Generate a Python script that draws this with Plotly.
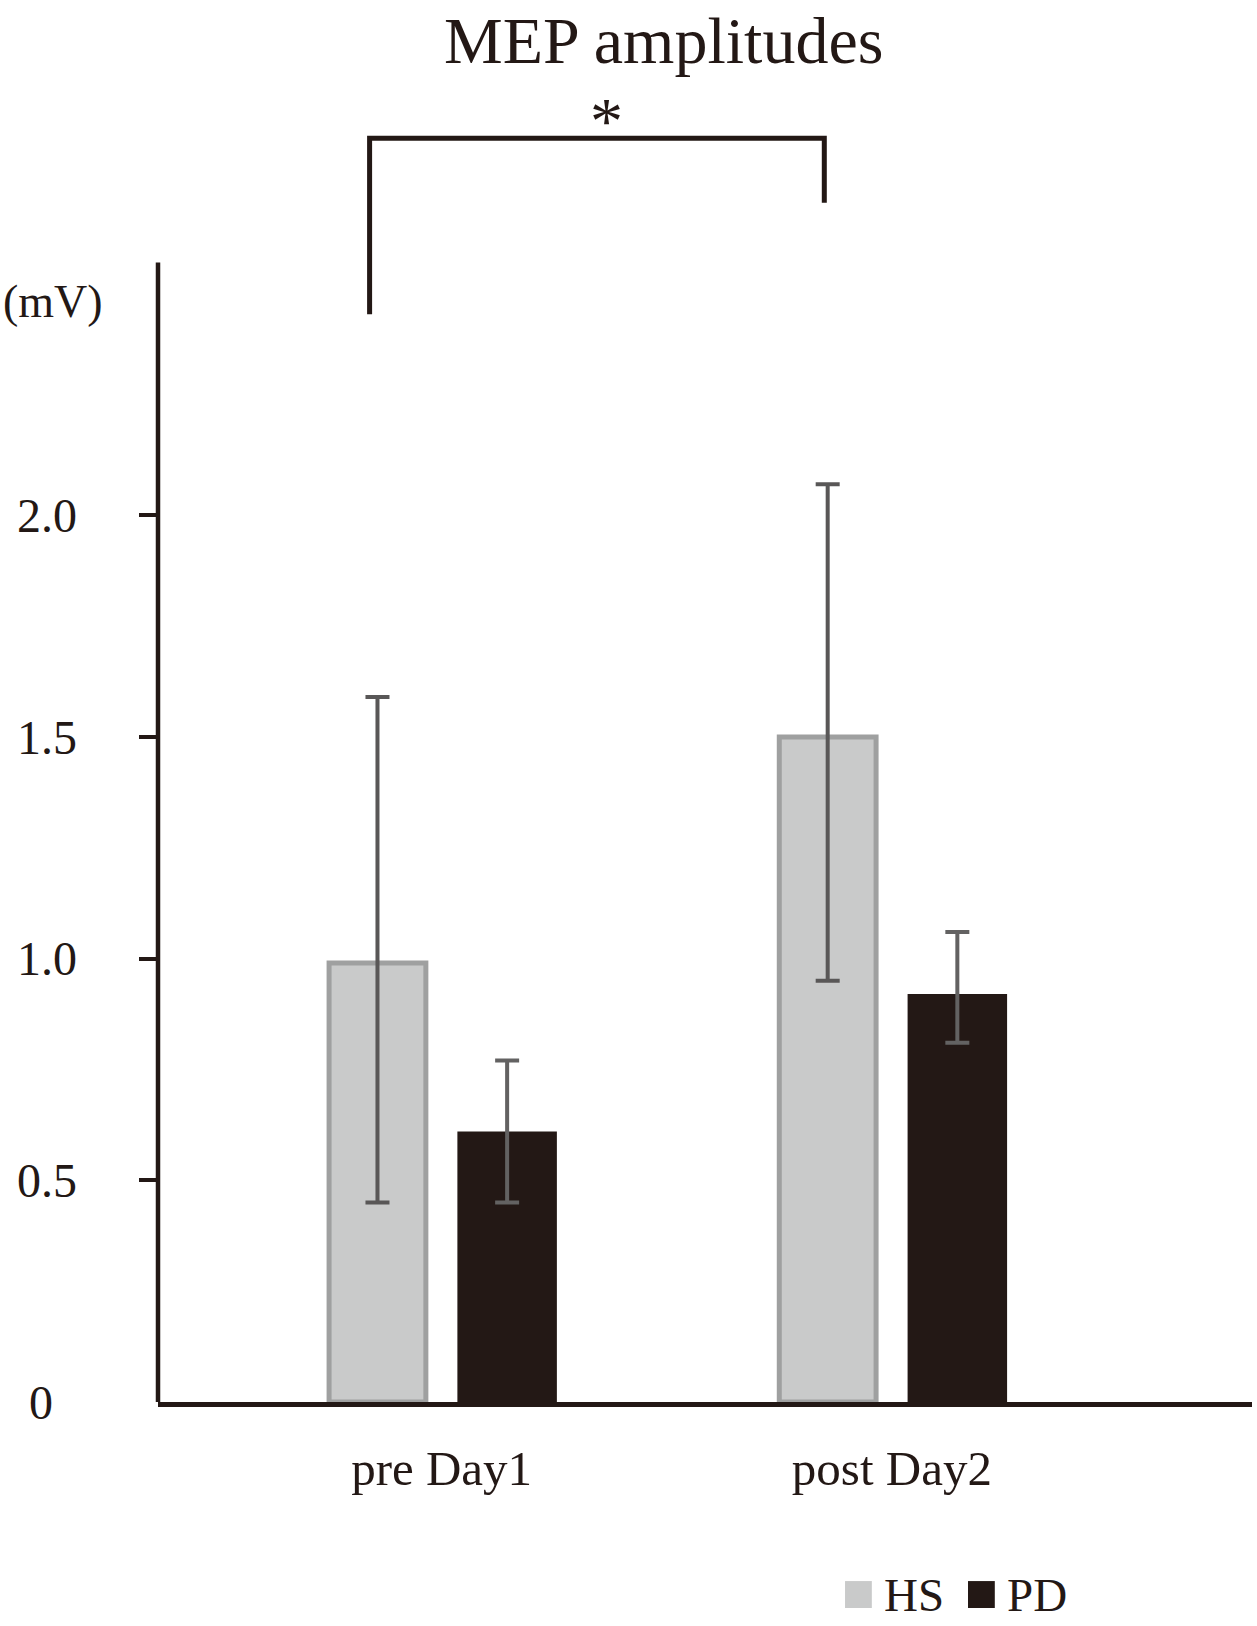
import plotly.graph_objects as go

# ---- data ----
categories = ["pre Day1", "post Day2"]
hs_mean = [0.99, 1.50]
hs_err_plus = [0.60, 0.57]
hs_err_minus = [0.54, 0.55]
pd_mean = [0.61, 0.92]
pd_err_plus = [0.16, 0.14]
pd_err_minus = [0.16, 0.11]

y_tick_vals = [0, 0.5, 1.0, 1.5, 2.0]
y_tick_text = ["0\u00a0\u00a0", "0.5", "1.0", "1.5", "2.0"]
y_tick_marks = [0.5, 1.0, 1.5, 2.0]

series_names = ["HS", "PD"]
unit_label = "(mV)"
title_text = "MEP amplitudes"

# significance bracket (in data units)
bracket_x = [-0.16, 0.85]
bracket_top = 2.85
bracket_left_end = 2.453
bracket_right_end = 2.705
sig_label = "*"
y_axis_top = 2.57

# ---- styles ----
FONT = "Liberation Serif"
INK = "#231815"
HS_FILL = "#c9caca"
HS_LINE = "#9fa0a0"
PD_FILL = "#231815"
ERR_HS = "#595757"
ERR_PD = "#636262"

x_pos = list(range(len(categories)))

fig = go.Figure()
fig.add_trace(go.Bar(
    x=x_pos, y=hs_mean, name=series_names[0],
    offset=-0.25, width=0.215,
    marker=dict(color=HS_FILL, line=dict(color=HS_LINE, width=5)),
    error_y=dict(type="data", symmetric=False, array=hs_err_plus,
                 arrayminus=hs_err_minus, color=ERR_HS, thickness=4, width=12),
    showlegend=False,
))
fig.add_trace(go.Bar(
    x=x_pos, y=pd_mean, name=series_names[1],
    offset=0.035, width=0.221,
    marker=dict(color=PD_FILL, line=dict(color=PD_FILL, width=0)),
    error_y=dict(type="data", symmetric=False, array=pd_err_plus,
                 arrayminus=pd_err_minus, color=ERR_PD, thickness=4, width=12),
    showlegend=False,
))

shapes = []
# y axis line (stops below the bracket)
shapes.append(dict(type="line", xref="paper", yref="y", x0=0, x1=0,
                   y0=0, y1=y_axis_top, line=dict(color=INK, width=4.5)))
# significance bracket
shapes.append(dict(
    type="path", xref="x", yref="y",
    path=(f"M {bracket_x[0]},{bracket_left_end} L {bracket_x[0]},{bracket_top} "
          f"L {bracket_x[1]},{bracket_top} L {bracket_x[1]},{bracket_right_end}"),
    line=dict(color=INK, width=5),
))

# manual legend with large swatches (paper coords, below the plot)
legend_items = [(series_names[0], HS_FILL, 0.628), (series_names[1], PD_FILL, 0.7404)]
annotations = []
for name, col, x0 in legend_items:
    shapes.append(dict(type="rect", xref="paper", yref="paper",
                       x0=x0, x1=x0 + 0.0245, y0=-0.1575, y1=-0.1369,
                       fillcolor=col, line=dict(width=0)))
    annotations.append(dict(xref="paper", yref="paper", x=x0 + 0.0335, y=-0.1476,
                            text=name, showarrow=False, xanchor="left", yanchor="middle",
                            font=dict(family=FONT, size=47, color=INK)))

annotations.append(dict(xref="paper", yref="y", x=0, y=2.483, xshift=-53,
                        text=unit_label, showarrow=False, xanchor="right", yanchor="middle",
                        font=dict(family=FONT, size=46, color=INK)))
annotations.append(dict(xref="x", yref="y", x=0.366, y=bracket_top, yshift=-21,
                        text=sig_label, showarrow=False, xanchor="center", yanchor="bottom",
                        font=dict(family=FONT, size=66, color=INK)))

fig.update_layout(
    width=1257, height=1626,
    margin=dict(l=158, r=5, t=94, b=224),
    paper_bgcolor="white", plot_bgcolor="white",
    barmode="overlay",
    title=dict(text=title_text, x=0.528, xref="container", xanchor="center",
               y=1 - 17 / 1626, yref="container", yanchor="top", pad=dict(t=0, b=0),
               font=dict(family=FONT, size=66, color=INK)),
    xaxis=dict(range=[-0.63, 1.8], tickmode="array", tickvals=x_pos, ticktext=categories,
               showline=True, linecolor=INK, linewidth=4.5, ticks="",
               showgrid=False, zeroline=False, ticklabelstandoff=19,
               tickfont=dict(family=FONT, size=49, color=INK)),
    yaxis=dict(range=[0, 2.95], tickmode="array", tickvals=y_tick_vals, ticktext=y_tick_text,
               showline=False, showgrid=False, zeroline=False, ticks="",
               ticklabelstandoff=80,
               tickfont=dict(family=FONT, size=48, color=INK),
               minor=dict(tickmode="array", tickvals=y_tick_marks, ticks="outside",
                          ticklen=18, tickwidth=4, tickcolor=INK, showgrid=False)),
    shapes=shapes,
    annotations=annotations,
    font=dict(family=FONT, color=INK),
)

fig.write_html("out.html", config={"displayModeBar": False},
               post_script="document.body.style.margin='0';")
